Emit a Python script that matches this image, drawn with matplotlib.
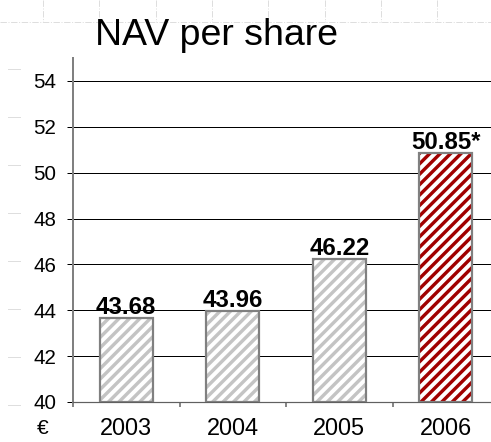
import matplotlib.pyplot as plt
from matplotlib.lines import Line2D
import numpy as np

years = ['2003', '2004', '2005', '2006']
nav = [43.68, 43.96, 46.22, 50.85]
labels = ['43.68', '43.96', '46.22', '50.85*']
y_ticks = [40, 42, 44, 46, 48, 50, 52, 54]

DPI = 125
W, H = 491, 442


def pt(px):
    # pixel size -> points at the save dpi
    return px * 72.0 / DPI


plt.rcParams['font.family'] = ['Liberation Sans', 'DejaVu Sans']
plt.rcParams['hatch.linewidth'] = pt(3.4)

fig = plt.figure(figsize=(W / DPI, H / DPI), dpi=DPI)
ax = fig.add_axes([73 / W, 40 / H, 426 / W, 344 / H])

############################ faint slide grid in the background ###############################

grid_col = '#dedede'
fig.add_artist(Line2D([0, 1], [1 - 22 / H, 1 - 22 / H], transform=fig.transFigure,
                      color=grid_col, lw=pt(1), ls='-.', zorder=0))
for gx in np.arange(43, W, 56.3):
    fig.add_artist(Line2D([gx / W, gx / W], [1, 1 - 22 / H], transform=fig.transFigure,
                          color=grid_col, lw=pt(1), ls='-.', zorder=0))
for gy in np.arange(69, 420, 48):
    fig.add_artist(Line2D([8 / W, 20 / W], [1 - gy / H, 1 - gy / H], transform=fig.transFigure,
                          color=grid_col, lw=pt(1), zorder=0))

############################ bars #################################

x = np.arange(len(years))
hatch_cols = ['#c4c4c4', '#c4c4c4', '#c4c4c4', '#a00000']

# hatched fill first, then the grey outline on top
for xi, v, hc in zip(x, nav, hatch_cols):
    ax.bar(xi, v - 40, bottom=40, width=0.5, color='white', edgecolor=hc,
           hatch='////', linewidth=0, zorder=2)
ax.bar(x, np.array(nav) - 40, bottom=40, width=0.5, fill=False,
       edgecolor='#808080', linewidth=pt(2.2), zorder=3)

for xi, v, lab in zip(x, nav, labels):
    ax.annotate(lab, (xi, v), xytext=(0, pt(4)), textcoords='offset points',
                ha='center', va='baseline', fontsize=pt(24), fontweight='bold')

ax.set_xlim(-0.5, 3.5)
ax.set_ylim(40, 55)
ax.set_yticks(y_ticks)
ax.set_xticks(x)
ax.set_xticklabels(years)
ax.set_xticks(np.arange(-0.5, 4, 1), minor=True)

ax.yaxis.grid(True, color='black', lw=pt(1))
ax.set_axisbelow(True)

ax.tick_params(axis='y', length=pt(6), width=pt(1), color='black', pad=pt(11),
               labelsize=pt(20.5))
ax.tick_params(axis='x', which='major', length=0, pad=pt(15), labelsize=pt(23.5))
ax.tick_params(axis='x', which='minor', length=pt(5), width=pt(1.5), color='#606060')

for s in ['top', 'right']:
    ax.spines[s].set_visible(False)
ax.spines['left'].set_color('#808080')
ax.spines['left'].set_linewidth(pt(2))
ax.spines['bottom'].set_color('#606060')
ax.spines['bottom'].set_linewidth(pt(1.2))

fig.text(95 / W, 1 - 45 / H, 'NAV per share', fontsize=pt(37.5), ha='left', va='baseline')
fig.text(43 / W, 1 - 434 / H, '€', fontsize=pt(21), ha='center', va='baseline')

fig.savefig('out.png', dpi=DPI)
